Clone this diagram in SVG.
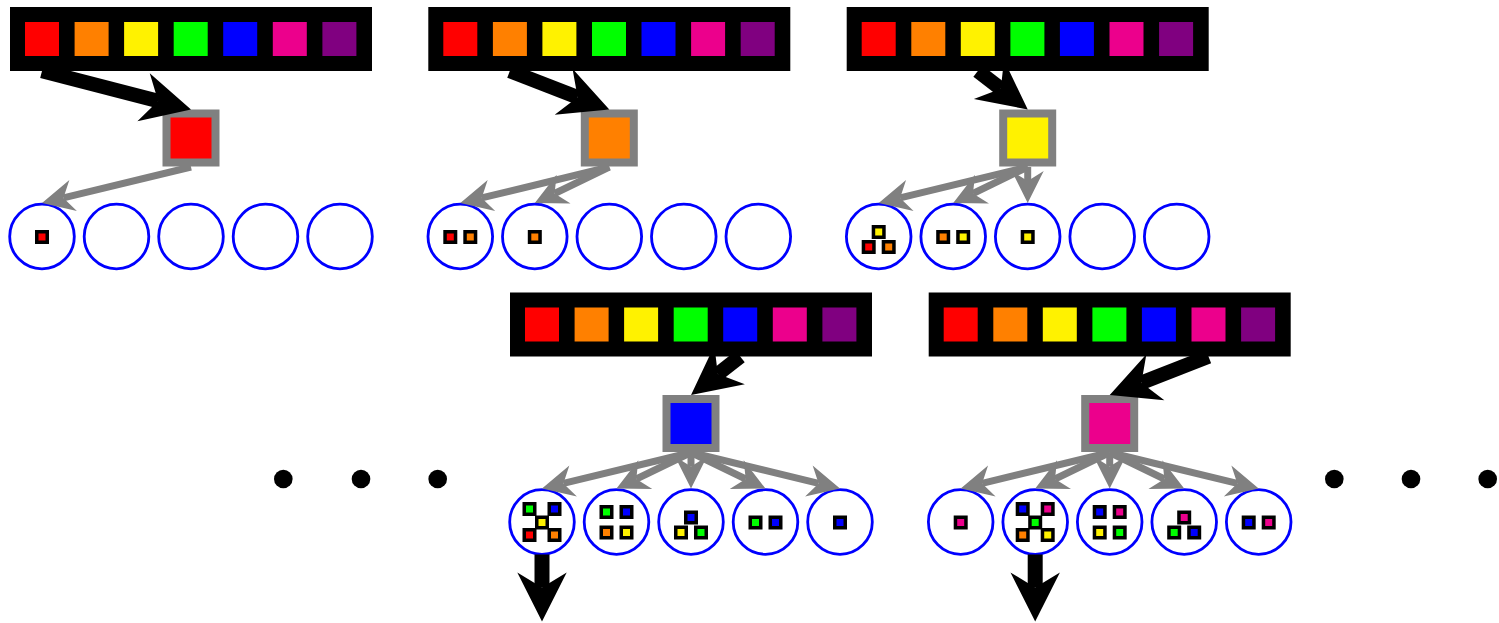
<svg xmlns="http://www.w3.org/2000/svg" width="1499" height="623" viewBox="0 0 1499 623">
<style>
.bar{fill:#000}
.node{stroke:#808080;stroke-width:8}
.c{fill:#fff;stroke:#0000ff;stroke-width:2.8}
.s{stroke:#000;stroke-width:3.5}
.r{fill:#ff0000}.o{fill:#ff8000}.y{fill:#fff200}.g{fill:#00ff00}.b{fill:#0000ff}.m{fill:#ec008c}.p{fill:#800080}
.bk{stroke:#000;stroke-width:14.5;fill:none;marker-end:url(#hb)}
.dn{stroke:#000;stroke-width:15;fill:none;marker-end:url(#hb)}
.gy{stroke:#808080;stroke-width:7;fill:none;marker-end:url(#hg)}
.dot{fill:#000}
</style>
<defs>
<marker id="hb" markerUnits="userSpaceOnUse" viewBox="0 0 50 50" markerWidth="50" markerHeight="50" refX="15" refY="25" orient="auto" overflow="visible"><path d="M49,25 L0,0.3 L15,25 L0,49.7 Z" fill="#000"/></marker>
<marker id="hg" markerUnits="userSpaceOnUse" viewBox="0 0 34 34" markerWidth="34" markerHeight="34" refX="10" refY="17" orient="auto" overflow="visible"><path d="M32,17 L0,1 L10,17 L0,33 Z" fill="#808080"/></marker>
<g id="palette">
<rect class="bar" x="10" y="7" width="362" height="64"/>
<rect class="r" x="25" y="22" width="34" height="34"/>
<rect class="o" x="74.6" y="22" width="34" height="34"/>
<rect class="y" x="124.1" y="22" width="34" height="34"/>
<rect class="g" x="173.7" y="22" width="34" height="34"/>
<rect class="b" x="223.2" y="22" width="34" height="34"/>
<rect class="m" x="272.8" y="22" width="34" height="34"/>
<rect class="p" x="322.4" y="22" width="34" height="34"/>
</g>
</defs>
<rect width="1499" height="623" fill="#fff"/>

<g id="panel1">
<g id="bar1"><use href="#palette"/></g>
<g id="node1"><rect class="node r" x="166.5" y="113.5" width="49" height="49"/></g>
<g id="p1c1"><circle class="c" cx="42" cy="236.5" r="32.3"/><rect class="s r" x="36.75" y="231.75" width="10.5" height="10.5"/></g>
<g id="p1c2"><circle class="c" cx="116.5" cy="236.5" r="32.3"/></g>
<g id="p1c3"><circle class="c" cx="191" cy="236.5" r="32.3"/></g>
<g id="p1c4"><circle class="c" cx="265.5" cy="236.5" r="32.3"/></g>
<g id="p1c5"><circle class="c" cx="340" cy="236.5" r="32.3"/></g>
</g>

<g id="panel2" transform="translate(418.3,0)">
<g id="bar2"><use href="#palette"/></g>
<g id="node2"><rect class="node o" x="166.5" y="113.5" width="49" height="49"/></g>
<g id="p2c1"><circle class="c" cx="42" cy="236.5" r="32.3"/><rect class="s r" x="26.75" y="231.75" width="10.5" height="10.5"/><rect class="s o" x="46.75" y="231.75" width="10.5" height="10.5"/></g>
<g id="p2c2"><circle class="c" cx="116.5" cy="236.5" r="32.3"/><rect class="s o" x="111.25" y="231.75" width="10.5" height="10.5"/></g>
<g id="p2c3"><circle class="c" cx="191" cy="236.5" r="32.3"/></g>
<g id="p2c4"><circle class="c" cx="265.5" cy="236.5" r="32.3"/></g>
<g id="p2c5"><circle class="c" cx="340" cy="236.5" r="32.3"/></g>
</g>

<g id="panel3" transform="translate(836.7,0)">
<g id="bar3"><use href="#palette"/></g>
<g id="node3"><rect class="node y" x="166.5" y="113.5" width="49" height="49"/></g>
<g id="p3c1"><circle class="c" cx="42" cy="236.5" r="32.3"/><rect class="s y" x="36.75" y="226.75" width="10.5" height="10.5"/><rect class="s r" x="26.75" y="241.75" width="10.5" height="10.5"/><rect class="s o" x="46.75" y="241.75" width="10.5" height="10.5"/></g>
<g id="p3c2"><circle class="c" cx="116.5" cy="236.5" r="32.3"/><rect class="s o" x="101.25" y="231.75" width="10.5" height="10.5"/><rect class="s y" x="121.25" y="231.75" width="10.5" height="10.5"/></g>
<g id="p3c3"><circle class="c" cx="191" cy="236.5" r="32.3"/><rect class="s y" x="185.75" y="231.75" width="10.5" height="10.5"/></g>
<g id="p3c4"><circle class="c" cx="265.5" cy="236.5" r="32.3"/></g>
<g id="p3c5"><circle class="c" cx="340" cy="236.5" r="32.3"/></g>
</g>

<g id="panel4" transform="translate(500,285.5)">
<g id="bar4"><use href="#palette"/></g>
<g id="node4"><rect class="node b" x="166.5" y="113.5" width="49" height="49"/></g>
<g id="p4c1"><circle class="c" cx="42" cy="236.5" r="32.3"/><rect class="s g" x="24.25" y="218.25" width="10.5" height="10.5"/><rect class="s b" x="49.25" y="218.25" width="10.5" height="10.5"/><rect class="s r" x="24.25" y="244.25" width="10.5" height="10.5"/><rect class="s o" x="49.25" y="244.25" width="10.5" height="10.5"/><rect class="s y" x="36.75" y="231.75" width="10.5" height="10.5"/></g>
<g id="p4c2"><circle class="c" cx="116.5" cy="236.5" r="32.3"/><rect class="s g" x="101.25" y="221.25" width="10.5" height="10.5"/><rect class="s b" x="121.25" y="221.25" width="10.5" height="10.5"/><rect class="s o" x="101.25" y="241.75" width="10.5" height="10.5"/><rect class="s y" x="121.25" y="241.75" width="10.5" height="10.5"/></g>
<g id="p4c3"><circle class="c" cx="191" cy="236.5" r="32.3"/><rect class="s b" x="185.75" y="226.75" width="10.5" height="10.5"/><rect class="s y" x="175.75" y="241.75" width="10.5" height="10.5"/><rect class="s g" x="195.75" y="241.75" width="10.5" height="10.5"/></g>
<g id="p4c4"><circle class="c" cx="265.5" cy="236.5" r="32.3"/><rect class="s g" x="250.25" y="231.75" width="10.5" height="10.5"/><rect class="s b" x="270.25" y="231.75" width="10.5" height="10.5"/></g>
<g id="p4c5"><circle class="c" cx="340" cy="236.5" r="32.3"/><rect class="s b" x="334.75" y="231.75" width="10.5" height="10.5"/></g>
</g>

<g id="panel5" transform="translate(918.7,285.5)">
<g id="bar5"><use href="#palette"/></g>
<g id="node5"><rect class="node m" x="166.5" y="113.5" width="49" height="49"/></g>
<g id="p5c1"><circle class="c" cx="42" cy="236.5" r="32.3"/><rect class="s m" x="36.75" y="231.75" width="10.5" height="10.5"/></g>
<g id="p5c2"><circle class="c" cx="116.5" cy="236.5" r="32.3"/><rect class="s b" x="98.75" y="218.25" width="10.5" height="10.5"/><rect class="s m" x="123.75" y="218.25" width="10.5" height="10.5"/><rect class="s o" x="98.75" y="244.25" width="10.5" height="10.5"/><rect class="s y" x="123.75" y="244.25" width="10.5" height="10.5"/><rect class="s g" x="111.25" y="231.75" width="10.5" height="10.5"/></g>
<g id="p5c3"><circle class="c" cx="191" cy="236.5" r="32.3"/><rect class="s b" x="175.75" y="221.25" width="10.5" height="10.5"/><rect class="s m" x="195.75" y="221.25" width="10.5" height="10.5"/><rect class="s y" x="175.75" y="241.75" width="10.5" height="10.5"/><rect class="s g" x="195.75" y="241.75" width="10.5" height="10.5"/></g>
<g id="p5c4"><circle class="c" cx="265.5" cy="236.5" r="32.3"/><rect class="s m" x="260.25" y="226.75" width="10.5" height="10.5"/><rect class="s g" x="250.25" y="241.75" width="10.5" height="10.5"/><rect class="s b" x="270.25" y="241.75" width="10.5" height="10.5"/></g>
<g id="p5c5"><circle class="c" cx="340" cy="236.5" r="32.3"/><rect class="s b" x="324.75" y="231.75" width="10.5" height="10.5"/><rect class="s m" x="344.75" y="231.75" width="10.5" height="10.5"/></g>
</g>

<g id="ellipsis">
<circle class="dot" cx="283.3" cy="479" r="9.3"/><circle class="dot" cx="361" cy="479" r="9.3"/><circle class="dot" cx="437.7" cy="479" r="9.3"/>
<circle class="dot" cx="1334.3" cy="479" r="9.3"/><circle class="dot" cx="1411" cy="479" r="9.3"/><circle class="dot" cx="1487.7" cy="479" r="9.3"/>
</g>

<g id="connectors">
<g transform="translate(0,0)">
<line class="bk" x1="42" y1="71" x2="158.1" y2="101"/>
<line class="gy" x1="191" y1="167" x2="63.4" y2="197.9"/>
</g>
<g transform="translate(418.3,0)">
<line class="bk" x1="91.56" y1="71" x2="159.3" y2="97.2"/>
<line class="gy" x1="191" y1="167" x2="63.4" y2="197.9"/>
<line class="gy" x1="191" y1="167" x2="136.3" y2="193.5"/>
</g>
<g transform="translate(836.7,0)">
<line class="bk" x1="141.12" y1="71" x2="164.1" y2="88.7"/>
<line class="gy" x1="191" y1="167" x2="63.4" y2="197.9"/>
<line class="gy" x1="191" y1="167" x2="136.3" y2="193.5"/>
<line class="gy" x1="191" y1="167" x2="191" y2="181"/>
</g>
<g transform="translate(500,285.5)">
<line class="bk" x1="240.24" y1="71" x2="217.8" y2="88.6"/>
<line class="gy" x1="191" y1="167" x2="63.4" y2="197.9"/>
<line class="gy" x1="191" y1="167" x2="136.3" y2="193.5"/>
<line class="gy" x1="191" y1="167" x2="191" y2="181"/>
<line class="gy" x1="191" y1="167" x2="245.7" y2="193.5"/>
<line class="gy" x1="191" y1="167" x2="318.6" y2="197.9"/>
<line class="dn" x1="42" y1="269" x2="42" y2="302"/>
</g>
<g transform="translate(918.7,285.5)">
<line class="bk" x1="289.8" y1="71" x2="222.7" y2="97.2"/>
<line class="gy" x1="191" y1="167" x2="63.4" y2="197.9"/>
<line class="gy" x1="191" y1="167" x2="136.3" y2="193.5"/>
<line class="gy" x1="191" y1="167" x2="191" y2="181"/>
<line class="gy" x1="191" y1="167" x2="245.7" y2="193.5"/>
<line class="gy" x1="191" y1="167" x2="318.6" y2="197.9"/>
<line class="dn" x1="116.5" y1="269" x2="116.5" y2="302"/>
</g>
</g>
</svg>
